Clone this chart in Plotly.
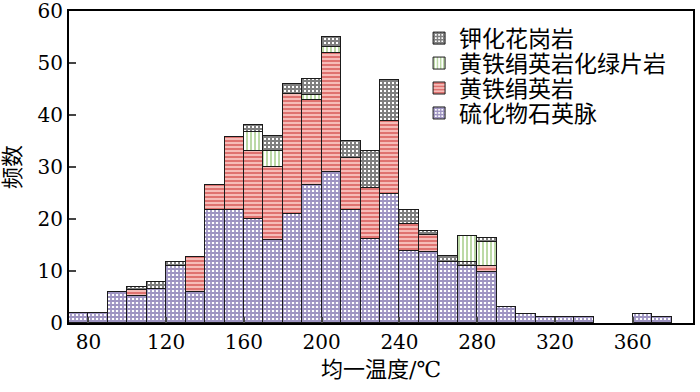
import plotly.graph_objects as go

# bin starts (°C), bin width 10
bin_starts = [70, 80, 90, 100, 110, 120, 130, 140, 150, 160, 170, 180, 190, 200, 210,
              220, 230, 240, 250, 260, 270, 280, 290, 300, 310, 320, 330, 340, 350, 360, 370]
bin_width = 10

# 硫化物石英脉
sulfide_quartz = [2, 2, 6, 5.2, 6.6, 10.9, 6, 21.8, 21.8, 20, 16, 21, 26.6, 29, 21.7,
                  16.1, 24.9, 13.8, 13.7, 11.7, 10.9, 9.9, 3, 1.8, 1.2, 1.1, 1.1, 0, 0, 1.8, 1.2]
# 黄铁绢英岩
pyrite_sericite = [0, 0, 0, 1.2, 0, 0, 6.7, 4.8, 14, 13.1, 14, 23, 16.3, 22.9, 10,
                   9.8, 13.9, 5.2, 3.2, 0, 0, 1, 0, 0, 0, 0, 0, 0, 0, 0, 0]
# 钾化花岗岩 (segment drawn below the green one in the 270 bin)
k_granite_low = [0, 0, 0, 0, 0, 0, 0, 0, 0, 0, 0, 0, 0, 0, 0,
                 0, 0, 0, 0, 0, 0.8, 0, 0, 0, 0, 0, 0, 0, 0, 0, 0]
# 黄铁绢英岩化绿片岩
greenschist = [0, 0, 0, 0, 0, 0, 0, 0, 0, 3.6, 3, 0, 1, 1.1, 0,
               0, 0, 0, 0, 0, 5.1, 4.7, 0, 0, 0, 0, 0, 0, 0, 0, 0]
# 钾化花岗岩
k_granite = [0, 0, 0, 0.5, 1.3, 0.9, 0, 0, 0, 1.4, 3, 2, 3.1, 2, 3.3,
             7.2, 8, 2.8, 0.8, 1.1, 0, 0.7, 0, 0, 0, 0, 0, 0, 0, 0, 0]

x_ticks = [80, 120, 160, 200, 240, 280, 320, 360]
y_ticks = [0, 10, 20, 30, 40, 50, 60]

centers = [b + bin_width / 2 for b in bin_starts]


def clean(v):
    return [a if a else None for a in v]


SERIF = "DejaVu Serif"
FONT = "DejaVu Serif, Noto Sans CJK SC"
line = dict(color="#1a1a1a", width=1)

# name, values, pattern, legend id (None = hidden)
series = [
    ("硫化物石英脉", sulfide_quartz, dict(shape="+", fgcolor="#3e2a86", bgcolor="#ffffff", size=4, solidity=0.7), "legend4"),
    ("黄铁绢英岩", pyrite_sericite, dict(shape="-", fgcolor="#c41818", bgcolor="#f6bcb8", size=4, solidity=0.45), "legend3"),
    ("钾化花岗岩", k_granite_low, dict(shape="+", fgcolor="#000000", bgcolor="#ffffff", size=4, solidity=0.75), None),
    ("黄铁绢英岩化绿片岩", greenschist, dict(shape="|", fgcolor="#6aab38", bgcolor="#ffffff", size=4, solidity=0.45), "legend2"),
    ("钾化花岗岩", k_granite, dict(shape="+", fgcolor="#000000", bgcolor="#ffffff", size=4, solidity=0.75), "legend"),
]

fig = go.Figure()
for name, vals, pat, leg in series:
    fig.add_trace(go.Bar(
        x=centers, y=clean(vals), width=bin_width, name=name,
        showlegend=leg is not None, legend=leg or "legend",
        marker=dict(color="#ffffff", pattern=pat, line=line),
    ))

legend_rows = {"legend": 0.913, "legend2": 0.833, "legend3": 0.753, "legend4": 0.673}
legend_style = {
    k: dict(x=0.561, y=v, xanchor="left", yanchor="middle", bgcolor="rgba(0,0,0,0)",
            font=dict(family=FONT, size=23))
    for k, v in legend_rows.items()
}

fig.update_layout(
    barmode="stack", bargap=0,
    width=700, height=392,
    margin=dict(l=69, r=7, t=11, b=69),
    paper_bgcolor="white", plot_bgcolor="white",
    font=dict(family=FONT, size=23, color="black"),
    **legend_style,
    xaxis=dict(
        range=[70, 391], tickvals=x_ticks, ticks="inside", ticklen=6, tickwidth=2,
        showline=True, linewidth=2, linecolor="black", mirror=True,
        showgrid=False, zeroline=False, automargin=False, ticklabeloverflow="allow",
        title=dict(text="均一温度/℃", font=dict(family=FONT, size=22), standoff=9),
        tickfont=dict(family=SERIF, size=20),
    ),
    yaxis=dict(
        range=[0, 60], tickvals=y_ticks, ticks="inside", ticklen=7, tickwidth=2,
        showline=True, linewidth=2, linecolor="black", mirror=True,
        showgrid=False, zeroline=False, automargin=False, ticklabeloverflow="allow",
        title=dict(text="频数", font=dict(family=FONT, size=22), standoff=11),
        tickfont=dict(family=SERIF, size=20),
    ),
)

fig.write_html("out.html", config={"displayModeBar": False},
               post_script="document.body.style.margin='0';")
